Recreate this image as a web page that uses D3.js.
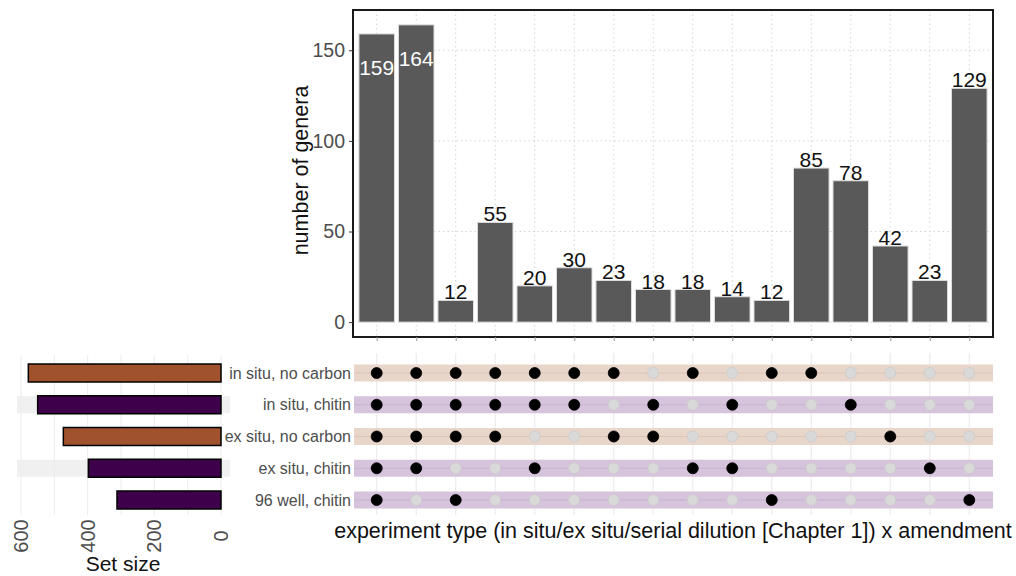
<!DOCTYPE html>
<html>
<head>
<meta charset="utf-8">
<script src="https://cdn.jsdelivr.net/npm/d3@7"></script>
<style>
  body { margin: 0; background: #fff; }
  text { font-family: "Liberation Sans", Arial, sans-serif; }
</style>
</head>
<body>
<svg width="1016" height="576"></svg>
<script>
const svg = d3.select("svg");

// intersection sizes, left to right
const counts = [159, 164, 12, 55, 20, 30, 23, 18, 18, 14, 12, 85, 78, 42, 23, 129];

// sets, top to bottom, and which intersection columns they belong to
const sets = ["in situ, no carbon", "in situ, chitin", "ex situ, no carbon", "ex situ, chitin", "96 well, chitin"];
const amendment = ["no carbon", "chitin", "no carbon", "chitin", "chitin"];
const inSituNoCarbon = [1, 1, 1, 1, 1, 1, 1, 0, 1, 0, 1, 1, 0, 0, 0, 0];
const inSituChitin   = [1, 1, 1, 1, 1, 1, 0, 1, 0, 1, 0, 0, 1, 0, 0, 0];
const exSituNoCarbon = [1, 1, 1, 1, 0, 0, 1, 1, 0, 0, 0, 0, 0, 1, 0, 0];
const exSituChitin   = [1, 1, 0, 0, 1, 0, 0, 0, 1, 1, 0, 0, 0, 0, 1, 0];
const well96Chitin   = [1, 0, 1, 0, 0, 0, 0, 0, 0, 0, 1, 0, 0, 0, 0, 1];
const membership = [inSituNoCarbon, inSituChitin, exSituNoCarbon, exSituChitin, well96Chitin];

const yTicks = [0, 50, 100, 150];
const sizeTicks = [600, 400, 200, 0];

const setSizes = membership.map(m => d3.sum(m, (v, i) => v * counts[i]));

const barFill = { "no carbon": "#a0522d", "chitin": "#3e004a" };
const bandFill = { "no carbon": "#e9d6ca", "chitin": "#d6c4dc" };
const bandLine = { "no carbon": "#dcc4b6", "chitin": "#c8b2d0" };

// ---- layout
const panel = { left: 353, right: 993, top: 10, bottom: 337 };
const cols = d3.range(counts.length);

const x = d3.scalePoint().domain(cols).range([panel.left, panel.right]).padding(0.6);
const bw = x.step() * 0.9;

const yMax = d3.max(counts);
const y = d3.scaleLinear()
    .domain([-yMax * 0.05, yMax * 1.05])
    .range([panel.bottom, panel.top]);

const rowY = d3.scalePoint().domain(sets).range([373, 500]);
const bandH = 17;

const sx = d3.scaleLinear().domain([0, 600]).range([221, 21]);

// ---- intersection size panel
const topG = svg.append("g");

topG.selectAll(".vgrid").data(cols).enter().append("line")
    .attr("x1", d => x(d)).attr("x2", d => x(d))
    .attr("y1", panel.top).attr("y2", panel.bottom)
    .attr("stroke", "#d4d4d4").attr("stroke-dasharray", "1.5,3");

topG.selectAll(".hgrid").data(yTicks).enter().append("line")
    .attr("x1", panel.left).attr("x2", panel.right)
    .attr("y1", d => y(d)).attr("y2", d => y(d))
    .attr("stroke", "#d4d4d4").attr("stroke-dasharray", "1.5,3");

topG.selectAll(".bar").data(counts).enter().append("rect")
    .attr("x", (d, i) => x(i) - bw / 2)
    .attr("width", bw)
    .attr("y", d => y(d))
    .attr("height", d => y(0) - y(d))
    .attr("fill", "#595959")
    .attr("stroke", "#dedede").attr("stroke-width", 1);

// labels that would leave the panel go inside the bar, in white
topG.selectAll(".lab").data(counts).enter().append("text")
    .attr("x", (d, i) => x(i))
    .attr("y", d => d > 150 ? y(d) + 41 : y(d) - 1)
    .attr("text-anchor", "middle")
    .attr("font-size", 21)
    .attr("fill", d => d > 150 ? "#fff" : "#111")
    .text(d => d);

topG.append("rect")
    .attr("x", panel.left).attr("y", panel.top)
    .attr("width", panel.right - panel.left).attr("height", panel.bottom - panel.top)
    .attr("fill", "none").attr("stroke", "#1a1a1a").attr("stroke-width", 2);

const yAxis = topG.append("g")
    .attr("transform", `translate(${panel.left},0)`)
    .call(d3.axisLeft(y).tickValues(yTicks).tickSize(4).tickPadding(4));
yAxis.select(".domain").remove();
yAxis.selectAll("line").attr("stroke", "#333");
yAxis.selectAll("text").attr("font-size", 19.5).attr("fill", "#4d4d4d")
    .attr("font-family", "Liberation Sans, Arial, sans-serif");

const xTicks = topG.append("g")
    .attr("transform", `translate(0,${panel.bottom})`)
    .call(d3.axisBottom(x).tickSize(4).tickFormat(""));
xTicks.select(".domain").remove();
xTicks.selectAll("line").attr("stroke", "#999");

topG.append("text")
    .attr("transform", `translate(308,${(panel.top + panel.bottom) / 2 - 3}) rotate(-90)`)
    .attr("text-anchor", "middle")
    .attr("font-size", 21.5)
    .attr("fill", "#111")
    .text("number of genera");

// ---- matrix
const mat = svg.append("g");

mat.selectAll(".mgrid").data(cols).enter().append("line")
    .attr("x1", d => x(d)).attr("x2", d => x(d))
    .attr("y1", 353).attr("y2", 515)
    .attr("stroke", "#ececec").attr("stroke-width", 1.2);

mat.selectAll(".band").data(sets).enter().append("rect")
    .attr("x", panel.left + 1).attr("width", panel.right - panel.left - 1)
    .attr("y", d => rowY(d) - bandH / 2).attr("height", bandH)
    .attr("fill", (d, i) => bandFill[amendment[i]]);

mat.selectAll(".bandline").data(sets).enter().append("line")
    .attr("x1", panel.left + 1).attr("x2", panel.right)
    .attr("y1", d => rowY(d)).attr("y2", d => rowY(d))
    .attr("stroke", (d, i) => bandLine[amendment[i]]).attr("stroke-width", 1);

const dots = [];
membership.forEach((m, r) => m.forEach((v, c) => dots.push({ set: sets[r], col: c, on: v })));

mat.selectAll(".dot").data(dots).enter().append("circle")
    .attr("cx", d => x(d.col))
    .attr("cy", d => rowY(d.set))
    .attr("r", 5.5)
    .attr("fill", d => d.on ? "#000" : "#d9d9d9")
    .attr("stroke", d => d.on ? "#000" : "#cacaca")
    .attr("stroke-width", 0.8);

mat.selectAll(".setlab").data(sets).enter().append("text")
    .attr("x", 351)
    .attr("y", d => rowY(d))
    .attr("dy", "0.35em")
    .attr("text-anchor", "end")
    .attr("font-size", 16)
    .attr("fill", "#4d4d4d")
    .text(d => d);

mat.append("text")
    .attr("x", (panel.left + panel.right) / 2)
    .attr("y", 538)
    .attr("text-anchor", "middle")
    .attr("font-size", 21.5)
    .attr("fill", "#111")
    .text("experiment type (in situ/ex situ/serial dilution [Chapter 1]) x amendment");

// ---- set size panel
const side = svg.append("g");

side.selectAll(".stripe").data(sets.filter((d, i) => i % 2 === 1)).enter().append("rect")
    .attr("x", 17).attr("width", 213)
    .attr("y", d => rowY(d) - bandH / 2).attr("height", bandH)
    .attr("fill", "#f0f0f0");

side.selectAll(".sgrid").data(d3.range(0, 700, 100)).enter().append("line")
    .attr("x1", d => sx(d)).attr("x2", d => sx(d))
    .attr("y1", 355).attr("y2", 515)
    .attr("stroke", "#ececec").attr("stroke-width", 1);

side.selectAll(".sbar").data(setSizes).enter().append("rect")
    .attr("x", d => sx(d))
    .attr("width", d => sx(0) - sx(d))
    .attr("y", (d, i) => rowY(sets[i]) - 9)
    .attr("height", 18)
    .attr("fill", (d, i) => barFill[amendment[i]])
    .attr("stroke", "#000").attr("stroke-width", 1.5);

side.selectAll(".stick").data(sizeTicks).enter().append("text")
    .attr("transform", d => `translate(${sx(d)},536) rotate(-90)`)
    .attr("text-anchor", "middle")
    .attr("dy", "0.35em")
    .attr("font-size", 20)
    .attr("fill", "#4d4d4d")
    .text(d => d);

side.append("text")
    .attr("x", 123).attr("y", 571)
    .attr("text-anchor", "middle")
    .attr("font-size", 21)
    .attr("fill", "#111")
    .text("Set size");
</script>
</body>
</html>
